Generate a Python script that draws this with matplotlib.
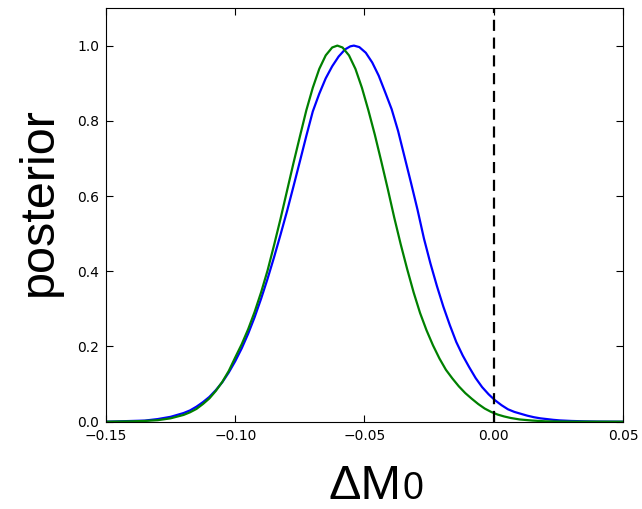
import matplotlib
matplotlib.use("Agg")
import matplotlib.pyplot as plt

# posterior of Delta M0, sampled along x
blue_x = [-0.150, -0.140, -0.135, -0.130, -0.125, -0.120, -0.1175, -0.115, -0.1125, -0.110,
          -0.1075, -0.105, -0.1025, -0.100, -0.0975, -0.095, -0.0925, -0.090, -0.0875, -0.085,
          -0.0825, -0.080, -0.0775, -0.075, -0.0725, -0.070, -0.0675, -0.065, -0.0625, -0.060,
          -0.0575, -0.0555, -0.0541, -0.052, -0.0495, -0.047, -0.0445, -0.042, -0.0395, -0.037,
          -0.0345, -0.032, -0.0295, -0.027, -0.0245, -0.022, -0.0195, -0.017, -0.0145, -0.012,
          -0.0095, -0.007, -0.0045, -0.002, 0.0005, 0.003, 0.0055, 0.008, 0.0105, 0.013,
          0.0155, 0.018, 0.0205, 0.023, 0.0255, 0.030, 0.035, 0.040, 0.050]
blue_y = [0.000, 0.002, 0.003, 0.007, 0.013, 0.023, 0.030, 0.040, 0.052, 0.066,
          0.084, 0.105, 0.131, 0.161, 0.195, 0.234, 0.278, 0.327, 0.380, 0.437,
          0.497, 0.559, 0.625, 0.692, 0.760, 0.825, 0.872, 0.913, 0.945, 0.971,
          0.990, 0.998, 1.000, 0.996, 0.981, 0.955, 0.920, 0.876, 0.831, 0.773,
          0.704, 0.635, 0.564, 0.487, 0.421, 0.361, 0.306, 0.257, 0.212, 0.176,
          0.145, 0.116, 0.092, 0.073, 0.057, 0.044, 0.033, 0.026, 0.021, 0.016,
          0.012, 0.009, 0.007, 0.005, 0.0035, 0.002, 0.001, 0.0004, 0.000]

green_x = [-0.150, -0.140, -0.135, -0.130, -0.125, -0.120, -0.1175, -0.115, -0.1125, -0.110,
           -0.1075, -0.105, -0.1025, -0.100, -0.0975, -0.095, -0.0925, -0.090, -0.0875, -0.085,
           -0.0825, -0.080, -0.0775, -0.075, -0.0725, -0.070, -0.0675, -0.065, -0.0625, -0.0605,
           -0.0585, -0.056, -0.0535, -0.051, -0.0485, -0.046, -0.0435, -0.041, -0.0385, -0.036,
           -0.0335, -0.031, -0.0285, -0.026, -0.0235, -0.021, -0.0185, -0.016, -0.0135, -0.011,
           -0.0085, -0.006, -0.0035, -0.001, 0.0015, 0.004, 0.0065, 0.010, 0.015, 0.020,
           0.025, 0.030, 0.050]
green_y = [0.000, 0.001, 0.002, 0.004, 0.009, 0.018, 0.025, 0.034, 0.047, 0.062,
           0.082, 0.106, 0.135, 0.171, 0.206, 0.246, 0.292, 0.344, 0.402, 0.469,
           0.539, 0.613, 0.687, 0.758, 0.828, 0.888, 0.938, 0.974, 0.995, 1.000,
           0.995, 0.974, 0.938, 0.888, 0.828, 0.763, 0.692, 0.619, 0.543, 0.472,
           0.406, 0.344, 0.289, 0.243, 0.203, 0.168, 0.138, 0.115, 0.094, 0.076,
           0.061, 0.047, 0.035, 0.026, 0.019, 0.014, 0.010, 0.006, 0.003, 0.001,
           0.0005, 0.0002, 0.000]

x_ticks = [-0.15, -0.10, -0.05, 0.00, 0.05]
y_ticks = [0.0, 0.2, 0.4, 0.6, 0.8, 1.0]

fig = plt.figure(figsize=(6.42, 5.09), dpi=100)
ax = fig.add_axes([0.1651, 0.1715, 0.8053, 0.8128])

ax.plot(blue_x, blue_y, color='blue', lw=1.6)
ax.plot(green_x, green_y, color='green', lw=1.6)
ax.axvline(0.0, color='black', ls='--', lw=1.6, dashes=(5, 3))

ax.set_xlim(-0.15, 0.05)
ax.set_ylim(0, 1.1)
ax.set_xticks(x_ticks)
ax.set_xticklabels([f"{t:.2f}".replace("-", "\u2212") for t in x_ticks])
ax.set_yticks(y_ticks)
ax.set_yticklabels([f"{t:.1f}" for t in y_ticks])
ax.tick_params(direction='in', top=True, right=True, length=5, labelsize=10, pad=5)

ax.set_ylabel("posterior", fontsize=35, family='Liberation Sans')
ax.yaxis.set_label_coords(-0.085, 0.531)

# x label: "ΔM" with a smaller "0" sitting on the same baseline
fig.text(329 / 642, 10 / 509, "\u0394M", fontsize=35, family='Liberation Sans',
         ha='left', va='baseline')
fig.text(402 / 642, 10 / 509, "0", fontsize=27, family='Liberation Sans',
         ha='left', va='baseline')

fig.savefig("out.png", dpi=100)
